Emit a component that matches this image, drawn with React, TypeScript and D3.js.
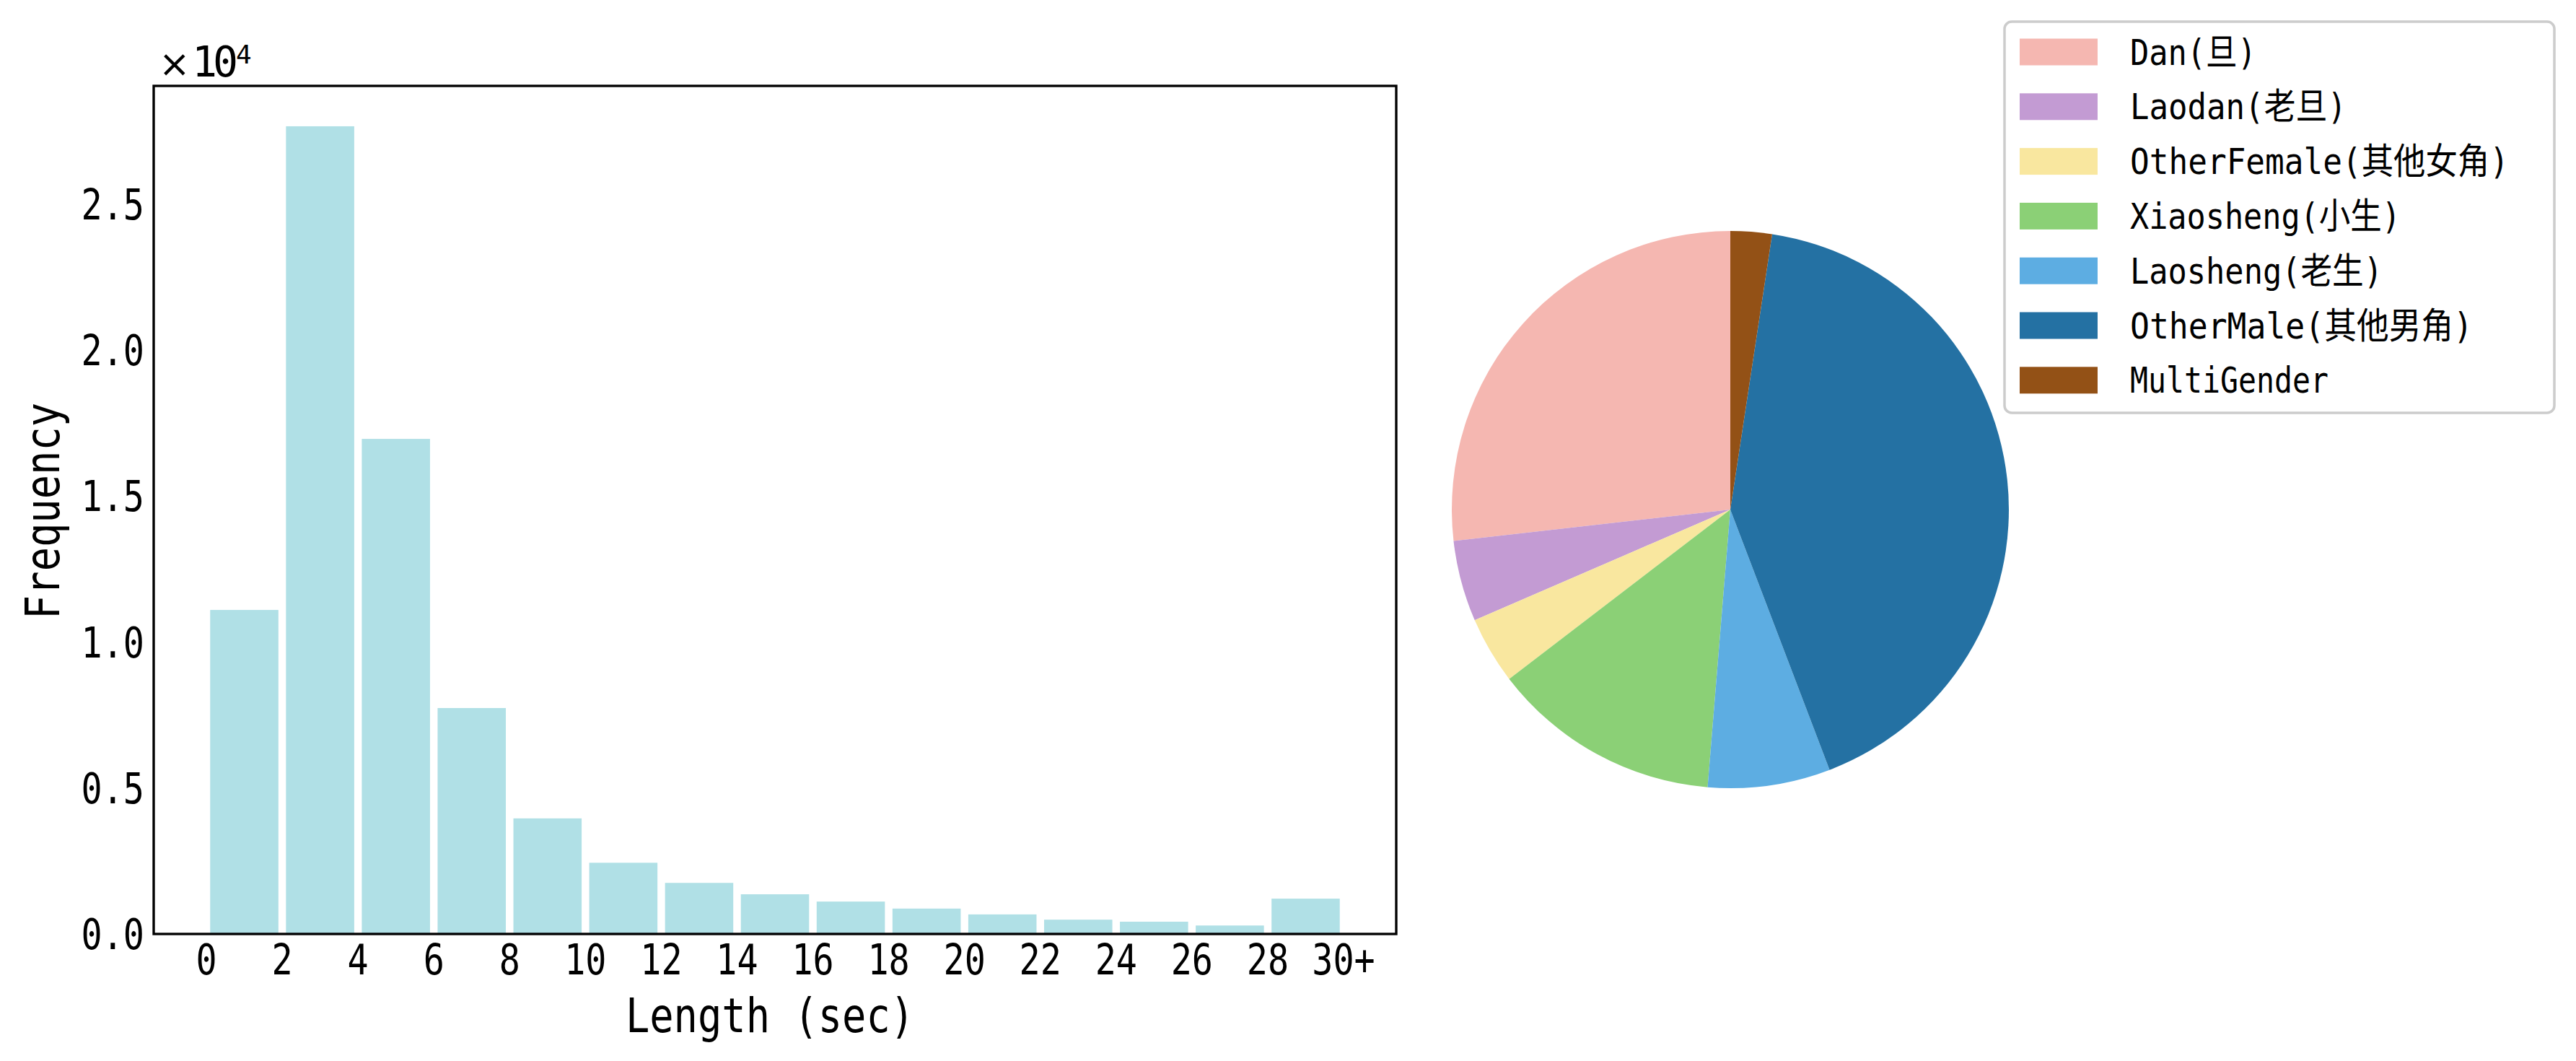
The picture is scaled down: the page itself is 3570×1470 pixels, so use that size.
import React, { useEffect, useRef } from 'react';
import * as d3 from 'd3';

// histogram of clip lengths (2 sec bins, last bin is 30+)
const binStarts = [0, 2, 4, 6, 8, 10, 12, 14, 16, 18, 20, 22, 24, 26, 28];
const binCounts = [11100, 27670, 16960, 7740, 3960, 2440, 1750, 1360, 1110, 870, 670, 490, 420, 290, 1210];
const xTickValues = [0, 2, 4, 6, 8, 10, 12, 14, 16, 18, 20, 22, 24, 26, 28, 30];
const xTickLabels = ['0', '2', '4', '6', '8', '10', '12', '14', '16', '18', '20', '22', '24', '26', '28', '30+'];
const yTickValues = [0, 5000, 10000, 15000, 20000, 25000];

// role type share (percent)
const roleNames = [
    'Dan(旦)',
    'Laodan(老旦)',
    'OtherFemale(其他女角)',
    'Xiaosheng(小生)',
    'Laosheng(老生)',
    'OtherMale(其他男角)',
    'MultiGender',
];
const roleShares = [26.8, 4.7, 3.9, 13.3, 7.1, 41.8, 2.4];
const roleColors = ['#F5B7B1', '#C39BD3', '#F9E79F', '#8BD076', '#5DADE2', '#2471A3', '#935116'];

const WIDTH = 3570;
const HEIGHT = 1470;
const FONT = '"DejaVu Sans Mono", "Noto Sans CJK SC", monospace';
const BAR_COLOR = '#B0E0E6';

// simhei-like widths: half width latin, full width cjk
const textWidth = (s, size) =>
    Array.from(s).reduce((w, ch) => w + (ch.charCodeAt(0) < 256 ? 0.5 : 1), 0) * size;

const App = () => {
    const svgRef = useRef(null);

    useEffect(() => {
        const svg = d3.select(svgRef.current);
        svg.selectAll('*').remove();

        svg.append('rect').attr('width', WIDTH).attr('height', HEIGHT).attr('fill', 'white');

        const addText = (parent, str, size) =>
            parent
                .append('text')
                .attr('font-family', FONT)
                .attr('font-size', size)
                .attr('fill', 'black')
                .attr('textLength', textWidth(str, size))
                .attr('lengthAdjust', 'spacingAndGlyphs')
                .text(str);

        // ---- histogram ----
        const plot = { left: 213, right: 1935, top: 119, bottom: 1294 };
        const binWidth = 2;
        const pad = ((1 - 0.9) / 2) * binWidth;
        const lo = binStarts[0] + pad;
        const hi = binStarts[binStarts.length - 1] + binWidth - pad;
        const span = hi - lo;

        const x = d3
            .scaleLinear()
            .domain([lo - 0.05 * span, hi + 0.05 * span])
            .range([plot.left, plot.right]);
        const y = d3
            .scaleLinear()
            .domain([0, d3.max(binCounts) * 1.05])
            .range([plot.bottom, plot.top]);

        svg.append('g')
            .selectAll('rect')
            .data(binStarts)
            .enter()
            .append('rect')
            .attr('x', (d) => x(d + pad))
            .attr('width', (d) => x(d + binWidth - pad) - x(d + pad))
            .attr('y', (d, i) => y(binCounts[i]))
            .attr('height', (d, i) => y(0) - y(binCounts[i]))
            .attr('fill', BAR_COLOR);

        svg.append('rect')
            .attr('x', plot.left)
            .attr('y', plot.top)
            .attr('width', plot.right - plot.left)
            .attr('height', plot.bottom - plot.top)
            .attr('fill', 'none')
            .attr('stroke', 'black')
            .attr('stroke-width', 3.33);

        const tickSize = 58.3;
        yTickValues.forEach((t) => {
            addText(svg, d3.format('.1f')(t / 1e4), tickSize)
                .attr('x', 200)
                .attr('y', y(t) + 21)
                .attr('text-anchor', 'end');
        });
        xTickValues.forEach((t, i) => {
            addText(svg, xTickLabels[i], tickSize)
                .attr('x', x(t))
                .attr('y', 1350)
                .attr('text-anchor', 'middle');
        });

        // offset text x10^4, one text element
        const offset = svg
            .append('text')
            .attr('x', 220)
            .attr('y', 106)
            .attr('fill', 'black');
        offset.append('tspan').attr('font-family', '"DejaVu Sans", sans-serif').attr('font-size', 52).text('×');
        offset
            .append('tspan')
            .attr('x', 266)
            .attr('font-family', FONT)
            .attr('font-size', 58.3)
            .attr('letter-spacing', -6)
            .text('10');
        offset
            .append('tspan')
            .attr('x', 327)
            .attr('dy', -18)
            .attr('font-family', FONT)
            .attr('font-size', 36)
            .text('4');

        addText(svg, 'Length (sec)', 66.7)
            .attr('x', 1067)
            .attr('y', 1430)
            .attr('text-anchor', 'middle');
        addText(svg, 'Frequency', 66.7)
            .attr('transform', 'translate(82, 708) rotate(-90)')
            .attr('text-anchor', 'middle');

        // ---- pie ----
        const pieGroup = svg.append('g').attr('transform', 'translate(2398, 706)');
        const pie = d3
            .pie()
            .sort(null)
            .value((d) => d)
            .startAngle(0)
            .endAngle(-2 * Math.PI);
        const arc = d3.arc().innerRadius(0).outerRadius(386);

        pieGroup
            .selectAll('path')
            .data(pie(roleShares))
            .enter()
            .append('path')
            .attr('d', arc)
            .attr('fill', (d, i) => roleColors[i]);

        // ---- legend ----
        const legend = svg.append('g');
        legend
            .append('rect')
            .attr('x', 2778)
            .attr('y', 30)
            .attr('width', 762)
            .attr('height', 542)
            .attr('rx', 10)
            .attr('fill', 'white')
            .attr('fill-opacity', 0.8)
            .attr('stroke', '#cccccc')
            .attr('stroke-width', 3.5);

        roleNames.forEach((name, i) => {
            const cy = 72 + i * 75.8;
            legend
                .append('rect')
                .attr('x', 2799)
                .attr('y', cy - 18.5)
                .attr('width', 108)
                .attr('height', 37)
                .attr('fill', roleColors[i]);
            addText(legend, name, 50).attr('x', 2952).attr('y', cy + 17.5);
        });
    }, []);

    return (
        <svg
            ref={svgRef}
            width={WIDTH}
            height={HEIGHT}
            style={{ position: 'absolute', left: 0, top: 0, display: 'block' }}
        />
    );
};

export default App;
